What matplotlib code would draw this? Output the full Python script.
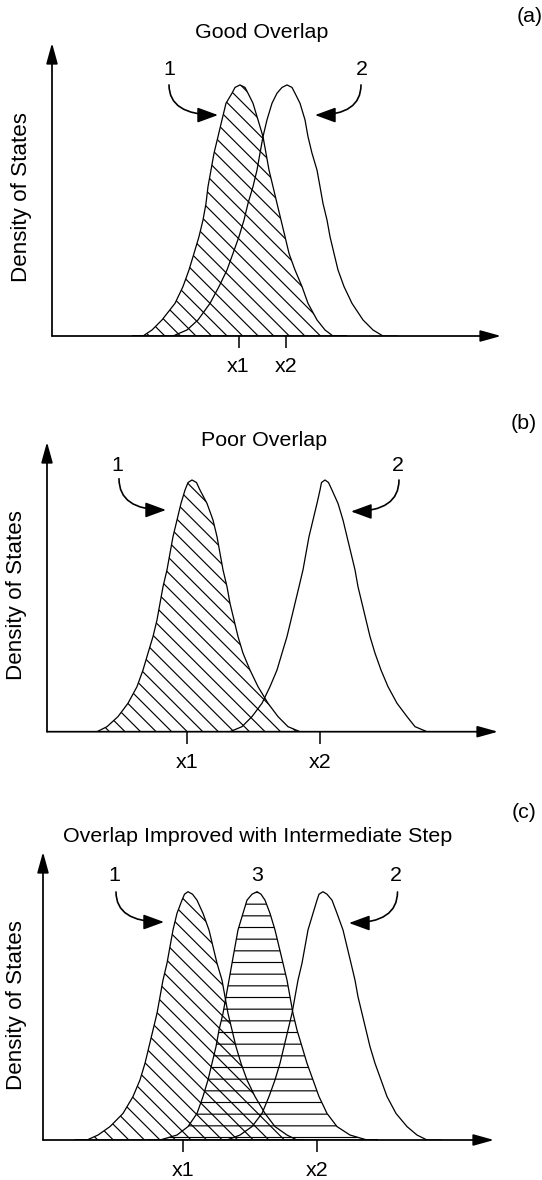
import matplotlib
matplotlib.use("Agg")
import matplotlib.pyplot as plt

plt.rcParams['font.family'] = ['Liberation Sans', 'DejaVu Sans']
plt.rcParams['hatch.linewidth'] = 0.6
plt.rcParams['hatch.color'] = 'black'

# ---------------- data ----------------
# x: horizontal position (arbitrary units), y: density of states (peak = 1)
TITLES = ["Good Overlap", "Poor Overlap", "Overlap Improved with Intermediate Step"]
PANEL_TAGS = ["(a)", "(b)", "(c)"]
YLABEL = "Density of States"
TICK_LABELS = ["x1", "x2"]

# panel (a)
A_LEVELS = [0.0, 0.024, 0.064, 0.130, 0.197, 0.263, 0.329, 0.396, 0.462, 0.528,
            0.595, 0.661, 0.728, 0.794, 0.861, 0.927, 0.967, 0.99, 1.0]
A1_LEFT = [91, 100, 110, 123, 131, 137, 142, 147, 151, 154, 156, 159, 162, 166, 170, 174, 180, 183, 188]
A1_RIGHT = [193, 196, 201, 206, 211, 214, 217, 221, 225, 229, 233, 237, 243, 250, 256, 265, 273, 281]
A1_TAILS = [80, 295]
A2_LEFT = [121, 135, 146, 158, 167, 175, 181, 187, 192, 196, 201, 205, 208, 211, 215, 220, 225, 230, 235]
A2_RIGHT = [240, 243, 248, 253, 256, 260, 265, 268, 271, 275, 278, 282, 286, 292, 300, 311, 321, 331]
A2_TAILS = [110, 345]
A_TICKS = [186.5, 234]

# panel (b)
B_LEVELS = [0.0, 0.020, 0.060, 0.113, 0.179, 0.245, 0.312, 0.378, 0.444, 0.510,
            0.576, 0.643, 0.709, 0.775, 0.841, 0.907, 0.960, 0.99, 1.0]
B1_LEFT = [50, 60, 71, 81, 90, 96, 101, 106, 110, 113, 116, 120, 123, 126, 130, 134, 138, 141, 145]
B1_RIGHT = [149.5, 153, 160, 166, 170, 173, 176, 180, 183, 187, 191, 196, 203, 211, 221, 231, 241, 253]
B1_TAILS = [38, 262]
B2_LEFT = [183, 195, 205, 215, 223, 230, 235, 240, 244, 248, 252, 256, 259, 262, 266, 270, 273, 274.5, 278]
B2_RIGHT = [281.5, 285, 291, 296, 300, 304, 308, 311, 315, 319, 323, 328, 334, 341, 350, 360, 368, 380]
B2_TAILS = [172, 392]
B_TICKS = [140, 273]

# panel (c)
C_LEVELS = [0.0, 0.020, 0.054, 0.107, 0.175, 0.242, 0.309, 0.376, 0.443, 0.510,
            0.577, 0.644, 0.712, 0.779, 0.846, 0.913, 0.966, 0.99, 1.0]
C1_LEFT = [44, 55, 67, 80, 90, 97, 102, 106, 110, 114, 117, 120, 124, 127, 130, 134, 139, 141.5, 145]
C1_RIGHT = [149.5, 154, 160, 166, 170, 174, 179, 182, 185, 189, 193, 198, 204, 212, 222, 232, 244, 254]
C1_TAILS = [32, 262]
C3_LEFT = [117, 134, 145, 154, 160, 165, 169, 173, 176, 180, 183, 186, 189, 192, 195, 200, 204, 209, 214]
C3_RIGHT = [218, 222, 227, 232, 236, 240, 244, 247, 250, 254, 259, 264, 270, 276, 284, 294, 307, 324]
C3_TAILS = [105, 335]
C2_LEFT = [184, 197, 209, 219, 226, 232, 237, 241, 245, 249, 252, 255, 259, 262, 265, 270, 274, 276, 280]
C2_RIGHT = [284, 289, 294, 300, 304, 308, 312, 315, 319, 323, 327, 332, 338, 344, 353, 364, 374, 384]
C2_TAILS = [172, 398]
C_TICKS = [140, 274]

# curve labels "1", "2", "3" and arrows (start -> tip), in data units
A_NUMS = [("1", 117, 1.06), ("2", 310, 1.06)]
A_ARROWS = [((117, 1.0), (166, 0.88)), ((309, 1.0), (263, 0.88))]
B_NUMS = [("1", 70.5, 1.056), ("2", 350.5, 1.056)]
B_ARROWS = [((72, 1.005), (119, 0.881)), ((352, 1.0), (304, 0.875))]
C_NUMS = [("1", 71, 1.067), ("3", 214.5, 1.067), ("2", 353, 1.067)]
C_ARROWS = [((73, 0.999), (121, 0.878)), ((354.5, 0.999), (306, 0.874))]

# ---------------- layout (pixels of the 542x1180 canvas) ----------------
W, H, DPI = 542, 1180, 140
fig = plt.figure(figsize=(W / DPI, H / DPI), dpi=DPI)
fig.patch.set_facecolor('white')

FS = 11


def curve(levels, left, right, tails):
    xs = [tails[0]] + list(left) + list(right) + [tails[1]]
    ys = [0.0] + list(levels) + list(levels[-2::-1]) + [0.0]
    return xs, ys


def make_axes(box, xmax, ymax, ticks):
    l, r, t, b = box
    ax = fig.add_axes([l / W, 1 - b / H, (r - l) / W, (b - t) / H])
    ax.set_xlim(0, xmax)
    ax.set_ylim(0, ymax)
    for s in ax.spines.values():
        s.set_visible(False)
    ax.patch.set_alpha(0)
    ax.set_yticks([])
    ax.set_xticks(ticks, TICK_LABELS)
    ax.tick_params(axis='x', length=6.2, width=0.8, direction='out', pad=4.5,
                   labelsize=11)
    ap = dict(arrowstyle='-|>,head_length=0.9,head_width=0.25', lw=0.9,
              color='black', shrinkA=0, shrinkB=0, mutation_scale=10)
    ax.annotate('', xy=(1, 0), xytext=(0, 0), xycoords='axes fraction',
                textcoords='axes fraction', arrowprops=ap)
    ax.annotate('', xy=(0, 1), xytext=(0, 0), xycoords='axes fraction',
                textcoords='axes fraction', arrowprops=ap)
    return ax


def pointers(ax, nums, arrows):
    for txt, x, y in nums:
        ax.text(x, y, txt, ha='center', va='center', fontsize=FS)
    for (x0, y0), (x1, y1) in arrows:
        ax.annotate('', xy=(x1, y1), xytext=(x0, y0),
                    arrowprops=dict(arrowstyle='-|>,head_length=0.9,head_width=0.33',
                                    connectionstyle='angle3,angleA=90,angleB=0',
                                    lw=0.85, color='black', shrinkA=0, shrinkB=0,
                                    mutation_scale=10))


def fig_text(x, y, s, size=FS, **kw):
    fig.text(x / W, 1 - y / H, s, ha='center', va='center', fontsize=size, **kw)


DIAG = '\\\\\\'
HORIZ = '--'
LW = 0.65

# ---- panel (a)
ax = make_axes((52, 501, 43, 336), 449, 1.167, A_TICKS)
x, y = curve(A_LEVELS, A1_LEFT, A1_RIGHT, A1_TAILS)
ax.fill(x, y, facecolor='none', edgecolor='black', hatch=DIAG, lw=LW)
x, y = curve(A_LEVELS, A2_LEFT, A2_RIGHT, A2_TAILS)
ax.plot(x, y, color='black', lw=LW)
pointers(ax, A_NUMS, A_ARROWS)
fig_text(262, 33, TITLES[0])
fig_text(530, 17, PANEL_TAGS[0])
fig_text(22, 197, YLABEL, size=11.5, rotation=90)

# ---- panel (b)
ax = make_axes((47, 498, 442, 731.7), 451, 1.151, B_TICKS)
x, y = curve(B_LEVELS, B1_LEFT, B1_RIGHT, B1_TAILS)
ax.fill(x, y, facecolor='none', edgecolor='black', hatch=DIAG, lw=LW)
x, y = curve(B_LEVELS, B2_LEFT, B2_RIGHT, B2_TAILS)
ax.plot(x, y, color='black', lw=LW)
pointers(ax, B_NUMS, B_ARROWS)
fig_text(264, 440, TITLES[1])
fig_text(524, 423, PANEL_TAGS[1])
fig_text(17, 595, YLABEL, size=11.5, rotation=90)

# ---- panel (c)
ax = make_axes((43, 494, 852, 1140), 451, 1.16, C_TICKS)
x, y = curve(C_LEVELS, C1_LEFT, C1_RIGHT, C1_TAILS)
ax.fill(x, y, facecolor='none', edgecolor='black', hatch=DIAG, lw=LW)
x, y = curve(C_LEVELS, C3_LEFT, C3_RIGHT, C3_TAILS)
ax.fill(x, y, facecolor='none', edgecolor='black', hatch=HORIZ, lw=LW)
x, y = curve(C_LEVELS, C2_LEFT, C2_RIGHT, C2_TAILS)
ax.plot(x, y, color='black', lw=LW)
pointers(ax, C_NUMS, C_ARROWS)
fig_text(257.5, 837, TITLES[2])
fig_text(524, 812, PANEL_TAGS[2])
fig_text(17, 1005, YLABEL, size=11.5, rotation=90)

fig.savefig("out.png", dpi=DPI)
